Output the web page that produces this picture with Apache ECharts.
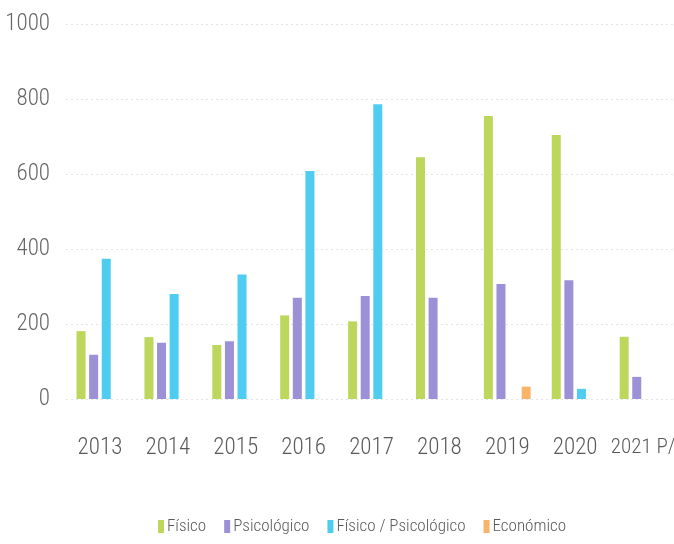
<!DOCTYPE html>
<html>
<head>
<meta charset="utf-8">
<script src="https://cdn.jsdelivr.net/npm/echarts@6/dist/echarts.min.js"></script>
<style>
html,body{margin:0;padding:0;background:#fff;}
#c{width:674px;height:544px;}
</style>
</head>
<body>
<div id="c"></div>
<script>
const categories = ['2013','2014','2015','2016','2017','2018','2019','2020','2021 P/'];
const fisico = [181, 165, 144, 223, 207, 645, 755, 704, 166];
const psicologico = [118, 150, 154, 270, 275, 270, 307, 317, 59];
const fisicoPsicologico = [374, 280, 332, 608, 786, null, null, 27, null];
const economico = [null, null, null, null, null, null, 33, null, null];
const yTicks = [0, 200, 400, 600, 800, 1000];

const seriesNames = ['Físico', 'Psicológico', 'Físico / Psicológico', 'Económico'];
const seriesData = [fisico, psicologico, fisicoPsicologico, economico];
const colors = ['#bdd65c', '#9c90d7', '#4fcdf0', '#f8b56a'];
const FONT = "'Roboto Condensed', 'DejaVu Sans Condensed', sans-serif";

const chart = echarts.init(document.getElementById('c'));
chart.setOption({
  animation: false,
  backgroundColor: '#ffffff',
  color: colors,
  textStyle: { fontFamily: FONT },
  grid: { left: 66, right: -3, top: 24, bottom: 145, outerBoundsMode: 'none', containLabel: false },
  legend: {
    top: 513,
    left: 153,
    itemWidth: 6,
    itemHeight: 13,
    itemGap: 18,
    icon: 'rect',
    textStyle: { fontFamily: FONT, fontWeight: 300, fontSize: 17, color: '#5a5a5a', padding: [0, 0, 0, -2] },
    data: seriesNames
  },
  xAxis: {
    type: 'category',
    data: categories,
    axisLine: { show: false },
    axisTick: { show: false },
    axisLabel: {
      interval: 0, fontFamily: FONT, fontWeight: 300, fontSize: 23, color: '#5a5a5a', margin: 38,
      formatter: (v, i) => i === categories.length - 1 ? '{s|' + v + '}' : v,
      rich: { s: { fontFamily: FONT, fontWeight: 300, fontSize: 21, color: '#5a5a5a' } }
    }
  },
  yAxis: {
    type: 'value',
    min: yTicks[0],
    max: yTicks[yTicks.length - 1],
    interval: 200,
    axisLine: { show: false },
    axisTick: { show: false },
    axisLabel: { fontFamily: FONT, fontWeight: 300, fontSize: 23, color: '#666666', margin: 16, formatter: v => String(v) },
    splitLine: { lineStyle: { color: '#e4e4e4', type: [2, 3], width: 1 } }
  },
  series: seriesNames.map((n, i) => ({
    name: n,
    type: 'bar',
    data: seriesData[i],
    barWidth: 9,
    barGap: '40%',
    itemStyle: { color: colors[i] }
  }))
});
</script>
</body>
</html>
